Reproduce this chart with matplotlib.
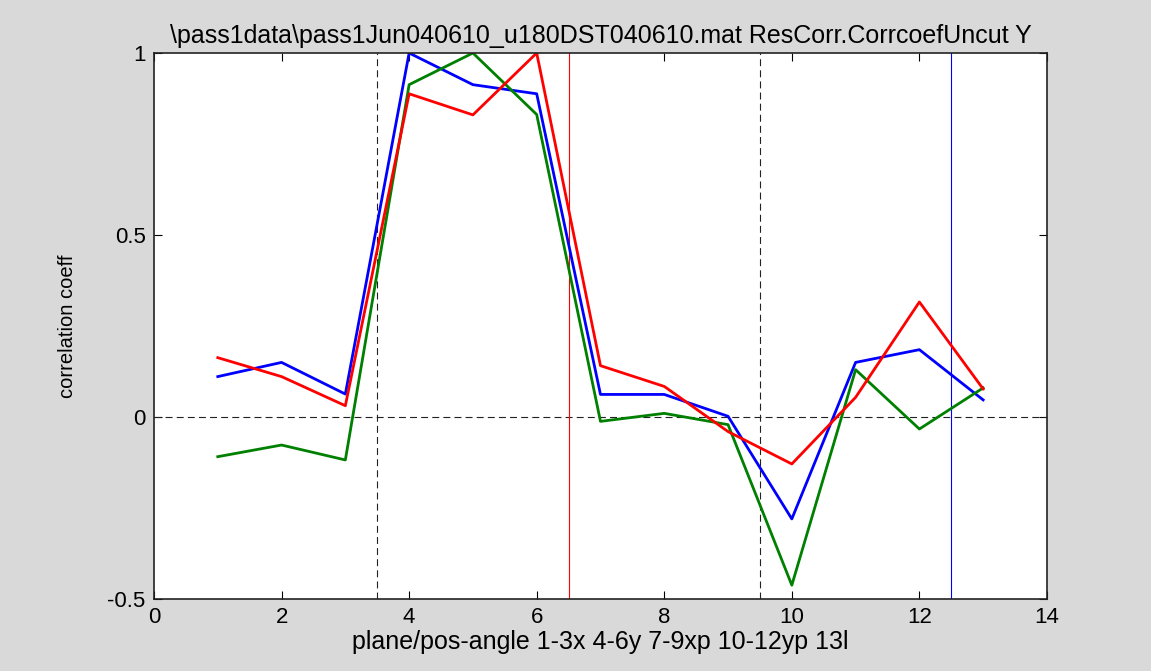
#correlation coefficient per plane/pos-angle, MATLAB style figure
import numpy as np
import matplotlib.pyplot as plt

plt.rcParams['font.family'] = ['Liberation Sans', 'DejaVu Sans']
plt.rcParams['lines.scale_dashes'] = False

#values
idx = [1, 2, 3, 4, 5, 6, 7, 8, 9, 10, 11, 12, 13]
blue_vals = [0.111, 0.150, 0.063, 1.000, 0.913, 0.888, 0.062, 0.062, 0.002, -0.280, 0.150, 0.185, 0.047]
green_vals = [-0.109, -0.077, -0.118, 0.913, 1.000, 0.831, -0.012, 0.010, -0.021, -0.462, 0.130, -0.033, 0.080]
red_vals = [0.163, 0.111, 0.031, 0.888, 0.830, 1.000, 0.141, 0.084, -0.040, -0.129, 0.054, 0.316, 0.077]

dash_x = [3.5, 9.5]
solid_x = [6.5, 12.5]
solid_col = ['#ff0000', '#0000ff']

title_txt = '\\pass1data\\pass1Jun040610_u180DST040610.mat ResCorr.CorrcoefUncut Y'
xlab = 'plane/pos-angle 1-3x 4-6y 7-9xp 10-12yp 13l'
ylab = 'correlation coeff'

fig = plt.figure(figsize=(11.51, 6.71), dpi=100, facecolor='#d9d9d9')
ax = fig.add_axes([0.1338, 0.1073, 0.7758, 0.8137])
ax.set_facecolor('white')

#reference lines
for xv in dash_x:
    ax.axvline(xv, color='#222222', lw=0.8, dashes=(5, 3))
ax.axhline(0, color='#222222', lw=0.8, dashes=(5, 3))
for xv, c in zip(solid_x, solid_col):
    ax.axvline(xv, color=c, lw=0.8)

ax.plot(idx, blue_vals, color='#0000ff', lw=2)
ax.plot(idx, green_vals, color='#008000', lw=2)
ax.plot(idx, red_vals, color='#ff0000', lw=2)

ax.set_xlim(0, 14)
ax.set_ylim(-0.5, 1)
ax.set_xticks(np.arange(0, 15, 2))
ax.set_yticks([-0.5, 0, 0.5, 1])
ax.set_yticklabels(['-0.5', '0', '0.5', '1'])
ax.tick_params(direction='in', top=True, right=True, length=6, width=0.8,
               labelsize=16)
ax.tick_params(axis='x', pad=6)
ax.tick_params(axis='y', pad=6)
for s in ax.spines.values():
    s.set_linewidth(1.2)
    s.set_color('#222222')

ax.set_title(title_txt, fontsize=18, pad=7)
ax.set_xlabel(xlab, fontsize=18, labelpad=1)
ax.set_ylabel(ylab, fontsize=14.5, labelpad=22)

plt.savefig('out.png', dpi=100, facecolor=fig.get_facecolor())
